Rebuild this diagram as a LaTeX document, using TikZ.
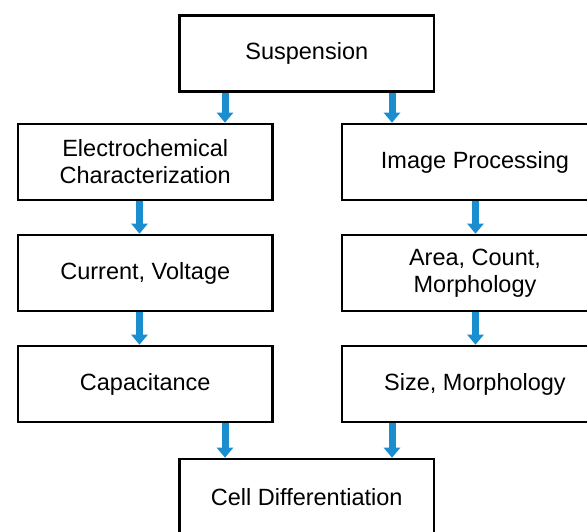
\documentclass[tikz,border=0pt]{standalone}
\usepackage{fontspec}
\setmainfont{Liberation Sans}
\usetikzlibrary{arrows.meta}
\definecolor{arrblue}{RGB}{27,142,208}
\begin{document}
\begin{tikzpicture}[x=1pt,y=-1pt,
  box/.style={draw=black, line width=2.6pt, fill=white, minimum width=254.5pt,
    minimum height=76pt, inner sep=0pt, align=center,
    font=\fontsize{23.5}{27}\selectfont},
  wbox/.style={box, minimum width=266pt},
  blk/.style={draw=arrblue, line width=7pt, -{Triangle[width=16pt,length=10pt]}}]
\useasboundingbox (0,0) rectangle (587,531);
\node[box] (susp) at (306.75,53.25) {Suspension};
\node[box] (elec) at (145.25,162) {Electrochemical\\Characterization};
\node[wbox] (img) at (475,162) {Image Processing};
\node[box] (curr) at (145.25,273) {Current, Voltage};
\node[wbox] (area) at (475,273) {Area, Count,\\Morphology};
\node[box] (cap) at (145.25,384) {Capacitance};
\node[wbox] (size) at (475,384) {Size, Morphology};
\node[box] (cell) at (306.75,497) {Cell Differentiation};
\coordinate (xa) at (225,0);
\coordinate (xb) at (392,0);
\coordinate (xl) at (139.5,0);
\coordinate (xr) at (475.5,0);
\draw[blk] (susp.south -| xa) -- (elec.north -| xa);
\draw[blk] (susp.south -| xb) -- (img.north -| xb);
\draw[blk] (elec.south -| xl) -- (curr.north -| xl);
\draw[blk] (curr.south -| xl) -- (cap.north -| xl);
\draw[blk] (img.south -| xr) -- (area.north -| xr);
\draw[blk] (area.south -| xr) -- (size.north -| xr);
\draw[blk] (cap.south -| xa) -- (cell.north -| xa);
\draw[blk] (size.south -| xb) -- (cell.north -| xb);
\end{tikzpicture}
\end{document}
